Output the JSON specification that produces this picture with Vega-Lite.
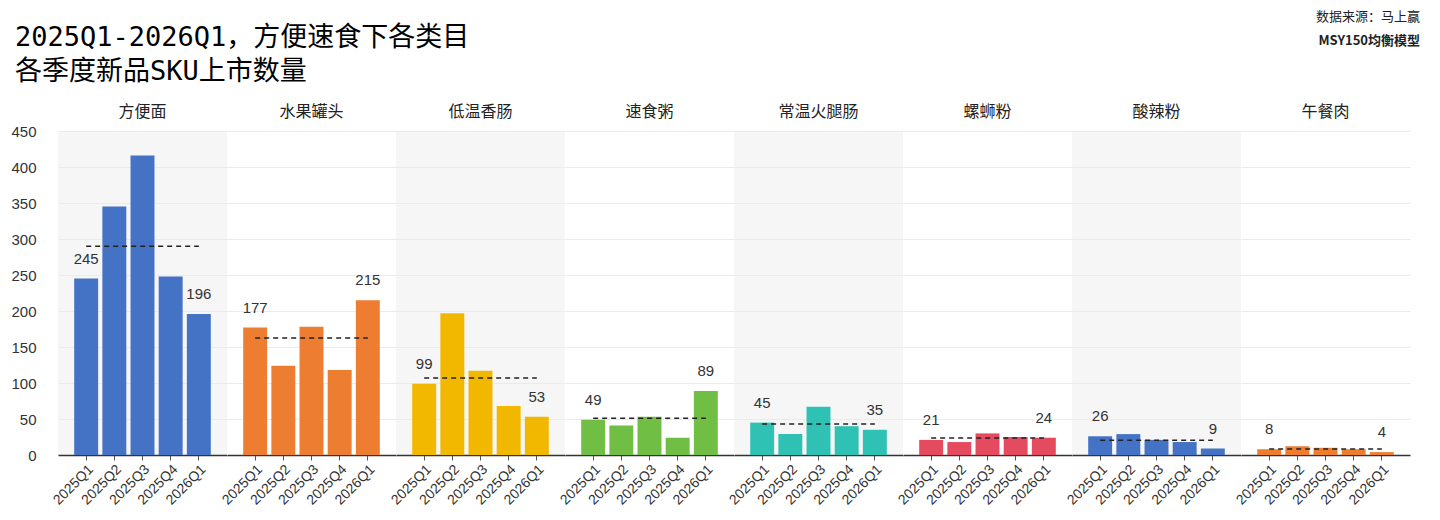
{
  "$schema": "https://vega.github.io/schema/vega-lite/v6.json",
  "background": "white",
  "padding": {"left": 10, "top": 11, "right": 10, "bottom": 5},
  "spacing": 0,
  "bounds": "flush",
  "data": {
    "values": [
      {"category": "方便面", "quarter": "2025Q1", "value": 245},
      {"category": "方便面", "quarter": "2025Q2", "value": 345},
      {"category": "方便面", "quarter": "2025Q3", "value": 416},
      {"category": "方便面", "quarter": "2025Q4", "value": 248},
      {"category": "方便面", "quarter": "2026Q1", "value": 196},
      {"category": "水果罐头", "quarter": "2025Q1", "value": 177},
      {"category": "水果罐头", "quarter": "2025Q2", "value": 124},
      {"category": "水果罐头", "quarter": "2025Q3", "value": 178},
      {"category": "水果罐头", "quarter": "2025Q4", "value": 118},
      {"category": "水果罐头", "quarter": "2026Q1", "value": 215},
      {"category": "低温香肠", "quarter": "2025Q1", "value": 99},
      {"category": "低温香肠", "quarter": "2025Q2", "value": 197},
      {"category": "低温香肠", "quarter": "2025Q3", "value": 117},
      {"category": "低温香肠", "quarter": "2025Q4", "value": 68},
      {"category": "低温香肠", "quarter": "2026Q1", "value": 53},
      {"category": "速食粥", "quarter": "2025Q1", "value": 49},
      {"category": "速食粥", "quarter": "2025Q2", "value": 41},
      {"category": "速食粥", "quarter": "2025Q3", "value": 53},
      {"category": "速食粥", "quarter": "2025Q4", "value": 24},
      {"category": "速食粥", "quarter": "2026Q1", "value": 89},
      {"category": "常温火腿肠", "quarter": "2025Q1", "value": 45},
      {"category": "常温火腿肠", "quarter": "2025Q2", "value": 29},
      {"category": "常温火腿肠", "quarter": "2025Q3", "value": 67},
      {"category": "常温火腿肠", "quarter": "2025Q4", "value": 40},
      {"category": "常温火腿肠", "quarter": "2026Q1", "value": 35},
      {"category": "螺蛳粉", "quarter": "2025Q1", "value": 21},
      {"category": "螺蛳粉", "quarter": "2025Q2", "value": 18},
      {"category": "螺蛳粉", "quarter": "2025Q3", "value": 30},
      {"category": "螺蛳粉", "quarter": "2025Q4", "value": 25},
      {"category": "螺蛳粉", "quarter": "2026Q1", "value": 24},
      {"category": "酸辣粉", "quarter": "2025Q1", "value": 26},
      {"category": "酸辣粉", "quarter": "2025Q2", "value": 29},
      {"category": "酸辣粉", "quarter": "2025Q3", "value": 21},
      {"category": "酸辣粉", "quarter": "2025Q4", "value": 18},
      {"category": "酸辣粉", "quarter": "2026Q1", "value": 9},
      {"category": "午餐肉", "quarter": "2025Q1", "value": 8},
      {"category": "午餐肉", "quarter": "2025Q2", "value": 12},
      {"category": "午餐肉", "quarter": "2025Q3", "value": 10},
      {"category": "午餐肉", "quarter": "2025Q4", "value": 8},
      {"category": "午餐肉", "quarter": "2026Q1", "value": 4}
    ]
  },
  "hconcat": [
    {
      "width": 169, "height": 324,
      "view": {"fill": "#f6f6f6", "stroke": null},
      "title": {
        "text": ["2025Q1-2026Q1，方便速食下各类目", "各季度新品SKU上市数量"],
        "anchor": "start", "frame": "bounds", "fontSize": 27, "lineHeight": 34,
        "font": "DejaVu Sans Mono, Noto Sans CJK SC",
        "offset": 18, "dx": 4, "color": "#000"
      },
      "transform": [{"filter": "datum.category === '方便面'"}],
      "encoding": {
        "x": {"field": "quarter", "type": "ordinal", "scale": {"paddingInner": 0.15, "paddingOuter": 0.575}},
        "y": {"field": "value", "type": "quantitative", "scale": {"domain": [0, 450], "nice": false},
              "axis": {"values": [0, 50, 100, 150, 200, 250, 300, 350, 400, 450], "labels": true}}
      },
      "layer": [
        {"mark": {"type": "bar", "color": "#4472C4"}},
        {"transform": [{"filter": "datum.quarter === '2025Q1' || datum.quarter === '2026Q1'"}],
         "mark": {"type": "text", "dy": -15, "baseline": "alphabetic"},
         "encoding": {"text": {"field": "value"}}},
        {"transform": [{"aggregate": [{"op": "mean", "field": "value", "as": "avg"}]}],
         "mark": {"type": "rule", "strokeDash": [5, 4], "strokeWidth": 1.5, "color": "#222"},
         "encoding": {"x": {"datum": "2025Q1"}, "x2": {"datum": "2026Q1"}, "y": {"field": "avg", "type": "quantitative"}}},
        {"transform": [{"filter": "datum.quarter === '2025Q3'"}],
         "mark": {"type": "text", "baseline": "middle", "fontSize": 16, "font": "Noto Sans CJK SC", "color": "#222", "dy": -19},
         "encoding": {"text": {"field": "category"}, "y": {"datum": 450}}}
      ]
    },
    {
      "width": 169, "height": 324,
      "view": {"fill": "white", "stroke": null},
      "transform": [{"filter": "datum.category === '水果罐头'"}],
      "encoding": {
        "x": {"field": "quarter", "type": "ordinal", "scale": {"paddingInner": 0.15, "paddingOuter": 0.575}},
        "y": {"field": "value", "type": "quantitative", "scale": {"domain": [0, 450], "nice": false},
              "axis": {"values": [0, 50, 100, 150, 200, 250, 300, 350, 400, 450], "labels": false}}
      },
      "layer": [
        {"mark": {"type": "bar", "color": "#ED7D31"}},
        {"transform": [{"filter": "datum.quarter === '2025Q1' || datum.quarter === '2026Q1'"}],
         "mark": {"type": "text", "dy": -15, "baseline": "alphabetic"},
         "encoding": {"text": {"field": "value"}}},
        {"transform": [{"aggregate": [{"op": "mean", "field": "value", "as": "avg"}]}],
         "mark": {"type": "rule", "strokeDash": [5, 4], "strokeWidth": 1.5, "color": "#222"},
         "encoding": {"x": {"datum": "2025Q1"}, "x2": {"datum": "2026Q1"}, "y": {"field": "avg", "type": "quantitative"}}},
        {"transform": [{"filter": "datum.quarter === '2025Q3'"}],
         "mark": {"type": "text", "baseline": "middle", "fontSize": 16, "font": "Noto Sans CJK SC", "color": "#222", "dy": -19},
         "encoding": {"text": {"field": "category"}, "y": {"datum": 450}}}
      ]
    },
    {
      "width": 169, "height": 324,
      "view": {"fill": "#f6f6f6", "stroke": null},
      "transform": [{"filter": "datum.category === '低温香肠'"}],
      "encoding": {
        "x": {"field": "quarter", "type": "ordinal", "scale": {"paddingInner": 0.15, "paddingOuter": 0.575}},
        "y": {"field": "value", "type": "quantitative", "scale": {"domain": [0, 450], "nice": false},
              "axis": {"values": [0, 50, 100, 150, 200, 250, 300, 350, 400, 450], "labels": false}}
      },
      "layer": [
        {"mark": {"type": "bar", "color": "#F2B800"}},
        {"transform": [{"filter": "datum.quarter === '2025Q1' || datum.quarter === '2026Q1'"}],
         "mark": {"type": "text", "dy": -15, "baseline": "alphabetic"},
         "encoding": {"text": {"field": "value"}}},
        {"transform": [{"aggregate": [{"op": "mean", "field": "value", "as": "avg"}]}],
         "mark": {"type": "rule", "strokeDash": [5, 4], "strokeWidth": 1.5, "color": "#222"},
         "encoding": {"x": {"datum": "2025Q1"}, "x2": {"datum": "2026Q1"}, "y": {"field": "avg", "type": "quantitative"}}},
        {"transform": [{"filter": "datum.quarter === '2025Q3'"}],
         "mark": {"type": "text", "baseline": "middle", "fontSize": 16, "font": "Noto Sans CJK SC", "color": "#222", "dy": -19},
         "encoding": {"text": {"field": "category"}, "y": {"datum": 450}}}
      ]
    },
    {
      "width": 169, "height": 324,
      "view": {"fill": "white", "stroke": null},
      "transform": [{"filter": "datum.category === '速食粥'"}],
      "encoding": {
        "x": {"field": "quarter", "type": "ordinal", "scale": {"paddingInner": 0.15, "paddingOuter": 0.575}},
        "y": {"field": "value", "type": "quantitative", "scale": {"domain": [0, 450], "nice": false},
              "axis": {"values": [0, 50, 100, 150, 200, 250, 300, 350, 400, 450], "labels": false}}
      },
      "layer": [
        {"mark": {"type": "bar", "color": "#71BE45"}},
        {"transform": [{"filter": "datum.quarter === '2025Q1' || datum.quarter === '2026Q1'"}],
         "mark": {"type": "text", "dy": -15, "baseline": "alphabetic"},
         "encoding": {"text": {"field": "value"}}},
        {"transform": [{"aggregate": [{"op": "mean", "field": "value", "as": "avg"}]}],
         "mark": {"type": "rule", "strokeDash": [5, 4], "strokeWidth": 1.5, "color": "#222"},
         "encoding": {"x": {"datum": "2025Q1"}, "x2": {"datum": "2026Q1"}, "y": {"field": "avg", "type": "quantitative"}}},
        {"transform": [{"filter": "datum.quarter === '2025Q3'"}],
         "mark": {"type": "text", "baseline": "middle", "fontSize": 16, "font": "Noto Sans CJK SC", "color": "#222", "dy": -19},
         "encoding": {"text": {"field": "category"}, "y": {"datum": 450}}}
      ]
    },
    {
      "width": 169, "height": 324,
      "view": {"fill": "#f6f6f6", "stroke": null},
      "transform": [{"filter": "datum.category === '常温火腿肠'"}],
      "encoding": {
        "x": {"field": "quarter", "type": "ordinal", "scale": {"paddingInner": 0.15, "paddingOuter": 0.575}},
        "y": {"field": "value", "type": "quantitative", "scale": {"domain": [0, 450], "nice": false},
              "axis": {"values": [0, 50, 100, 150, 200, 250, 300, 350, 400, 450], "labels": false}}
      },
      "layer": [
        {"mark": {"type": "bar", "color": "#2FC1B3"}},
        {"transform": [{"filter": "datum.quarter === '2025Q1' || datum.quarter === '2026Q1'"}],
         "mark": {"type": "text", "dy": -15, "baseline": "alphabetic"},
         "encoding": {"text": {"field": "value"}}},
        {"transform": [{"aggregate": [{"op": "mean", "field": "value", "as": "avg"}]}],
         "mark": {"type": "rule", "strokeDash": [5, 4], "strokeWidth": 1.5, "color": "#222"},
         "encoding": {"x": {"datum": "2025Q1"}, "x2": {"datum": "2026Q1"}, "y": {"field": "avg", "type": "quantitative"}}},
        {"transform": [{"filter": "datum.quarter === '2025Q3'"}],
         "mark": {"type": "text", "baseline": "middle", "fontSize": 16, "font": "Noto Sans CJK SC", "color": "#222", "dy": -19},
         "encoding": {"text": {"field": "category"}, "y": {"datum": 450}}}
      ]
    },
    {
      "width": 169, "height": 324,
      "view": {"fill": "white", "stroke": null},
      "transform": [{"filter": "datum.category === '螺蛳粉'"}],
      "encoding": {
        "x": {"field": "quarter", "type": "ordinal", "scale": {"paddingInner": 0.15, "paddingOuter": 0.575}},
        "y": {"field": "value", "type": "quantitative", "scale": {"domain": [0, 450], "nice": false},
              "axis": {"values": [0, 50, 100, 150, 200, 250, 300, 350, 400, 450], "labels": false}}
      },
      "layer": [
        {"mark": {"type": "bar", "color": "#E54B5E"}},
        {"transform": [{"filter": "datum.quarter === '2025Q1' || datum.quarter === '2026Q1'"}],
         "mark": {"type": "text", "dy": -15, "baseline": "alphabetic"},
         "encoding": {"text": {"field": "value"}}},
        {"transform": [{"aggregate": [{"op": "mean", "field": "value", "as": "avg"}]}],
         "mark": {"type": "rule", "strokeDash": [5, 4], "strokeWidth": 1.5, "color": "#222"},
         "encoding": {"x": {"datum": "2025Q1"}, "x2": {"datum": "2026Q1"}, "y": {"field": "avg", "type": "quantitative"}}},
        {"transform": [{"filter": "datum.quarter === '2025Q3'"}],
         "mark": {"type": "text", "baseline": "middle", "fontSize": 16, "font": "Noto Sans CJK SC", "color": "#222", "dy": -19},
         "encoding": {"text": {"field": "category"}, "y": {"datum": 450}}}
      ]
    },
    {
      "width": 169, "height": 324,
      "view": {"fill": "#f6f6f6", "stroke": null},
      "transform": [{"filter": "datum.category === '酸辣粉'"}],
      "encoding": {
        "x": {"field": "quarter", "type": "ordinal", "scale": {"paddingInner": 0.15, "paddingOuter": 0.575}},
        "y": {"field": "value", "type": "quantitative", "scale": {"domain": [0, 450], "nice": false},
              "axis": {"values": [0, 50, 100, 150, 200, 250, 300, 350, 400, 450], "labels": false}}
      },
      "layer": [
        {"mark": {"type": "bar", "color": "#4472C4"}},
        {"transform": [{"filter": "datum.quarter === '2025Q1' || datum.quarter === '2026Q1'"}],
         "mark": {"type": "text", "dy": -15, "baseline": "alphabetic"},
         "encoding": {"text": {"field": "value"}}},
        {"transform": [{"aggregate": [{"op": "mean", "field": "value", "as": "avg"}]}],
         "mark": {"type": "rule", "strokeDash": [5, 4], "strokeWidth": 1.5, "color": "#222"},
         "encoding": {"x": {"datum": "2025Q1"}, "x2": {"datum": "2026Q1"}, "y": {"field": "avg", "type": "quantitative"}}},
        {"transform": [{"filter": "datum.quarter === '2025Q3'"}],
         "mark": {"type": "text", "baseline": "middle", "fontSize": 16, "font": "Noto Sans CJK SC", "color": "#222", "dy": -19},
         "encoding": {"text": {"field": "category"}, "y": {"datum": 450}}}
      ]
    },
    {
      "width": 169, "height": 324,
      "view": {"fill": "white", "stroke": null},
      "title": {
        "text": "数据来源：马上赢", "subtitle": "MSY150均衡模型",
        "anchor": "end", "frame": "group", "fontSize": 13, "subtitleFontSize": 13,
        "subtitleFontWeight": "bold", "subtitlePadding": 11, "subtitleColor": "#222",
        "offset": 56, "dx": 10, "color": "#222"
      },
      "transform": [{"filter": "datum.category === '午餐肉'"}],
      "encoding": {
        "x": {"field": "quarter", "type": "ordinal", "scale": {"paddingInner": 0.15, "paddingOuter": 0.575}},
        "y": {"field": "value", "type": "quantitative", "scale": {"domain": [0, 450], "nice": false},
              "axis": {"values": [0, 50, 100, 150, 200, 250, 300, 350, 400, 450], "labels": false}}
      },
      "layer": [
        {"mark": {"type": "bar", "color": "#ED7D31"}},
        {"transform": [{"filter": "datum.quarter === '2025Q1' || datum.quarter === '2026Q1'"}],
         "mark": {"type": "text", "dy": -15, "baseline": "alphabetic"},
         "encoding": {"text": {"field": "value"}}},
        {"transform": [{"aggregate": [{"op": "mean", "field": "value", "as": "avg"}]}],
         "mark": {"type": "rule", "strokeDash": [5, 4], "strokeWidth": 1.5, "color": "#222"},
         "encoding": {"x": {"datum": "2025Q1"}, "x2": {"datum": "2026Q1"}, "y": {"field": "avg", "type": "quantitative"}}},
        {"transform": [{"filter": "datum.quarter === '2025Q3'"}],
         "mark": {"type": "text", "baseline": "middle", "fontSize": 16, "font": "Noto Sans CJK SC", "color": "#222", "dy": -19},
         "encoding": {"text": {"field": "category"}, "y": {"datum": 450}}}
      ]
    }
  ],
  "config": {
    "font": "Noto Sans CJK SC",
    "view": {"stroke": null},
    "text": {"font": "Liberation Sans", "fontSize": 15, "color": "#333"},
    "title": {"font": "Noto Sans CJK SC", "fontWeight": "normal", "subtitleFont": "Noto Sans CJK SC"},
    "axisX": {
      "title": null, "grid": false,
      "domainColor": "#333", "domainWidth": 1.5,
      "tickColor": "#555", "tickSize": 5, "tickWidth": 1,
      "labelAngle": -45, "labelFont": "Liberation Sans", "labelFontSize": 14,
      "labelColor": "#333", "labelPadding": 2
    },
    "axisY": {
      "title": null, "grid": true, "gridColor": "#ebebeb", "gridWidth": 1,
      "domain": false, "ticks": false,
      "labelFont": "Liberation Sans", "labelFontSize": 15, "labelColor": "#333",
      "labelPadding": 22
    }
  }
}
